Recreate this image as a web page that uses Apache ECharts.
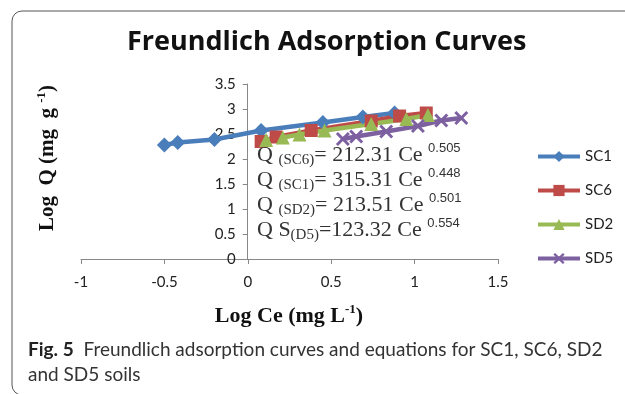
<!DOCTYPE html>
<html>
<head>
<meta charset="utf-8">
<script src="https://cdn.jsdelivr.net/npm/echarts@6/dist/echarts.min.js"></script>
<style>
html,body{margin:0;padding:0;background:#fff;}
#main{width:625px;height:394px;}
</style>
</head>
<body>
<div id="main"></div>
<script>
// data (log Ce, log Q)
var seriesNames = ['SC1', 'SC6', 'SD2', 'SD5'];
var sc1X = [-0.50, -0.42, -0.20, 0.08, 0.45, 0.69, 0.88];
var sc1Y = [2.28, 2.33, 2.39, 2.57, 2.73, 2.84, 2.92];
var sc6X = [0.08, 0.17, 0.38, 0.74, 0.91, 1.07];
var sc6Y = [2.35, 2.44, 2.57, 2.76, 2.86, 2.92];
var sd2X = [0.11, 0.21, 0.31, 0.46, 0.74, 0.95, 1.08];
var sd2Y = [2.38, 2.43, 2.49, 2.57, 2.70, 2.80, 2.88];
var sd5X = [0.57, 0.65, 0.83, 1.02, 1.16, 1.28];
var sd5Y = [2.40, 2.45, 2.55, 2.66, 2.77, 2.82];

// equations written on the plot
var eqLabels = ['Q ', 'Q ', 'Q ', 'Q S'];
var eqSubs = ['(SC6)', '(SC1)', '(SD2)', '(D5)'];
var eqMid = ['= 212.31 Ce ', '= 315.31 Ce ', '= 213.51 Ce ', '=123.32 Ce '];
var eqExp = ['0.505', '0.448', '0.501', '0.554'];

var colors = ['#4a7ebb', '#be4b48', '#98b954', '#7d60a0'];
var symbols = ['diamond', 'rect', 'triangle',
  'path://M1.5,0L5,3.5L8.5,0L10,1.5L6.5,5L10,8.5L8.5,10L5,6.5L1.5,10L0,8.5L3.5,5L0,1.5Z'];
var symSizes = [15, 13, 14, 14];
var xs = [sc1X, sc6X, sd2X, sd5X];
var ys = [sc1Y, sc6Y, sd2Y, sd5Y];

function pairs(x, y) {
  var out = [];
  for (var i = 0; i < x.length; i++) out.push([x[i], y[i]]);
  return out;
}

var series = [];
for (var i = 0; i < seriesNames.length; i++) {
  series.push({
    name: seriesNames[i],
    type: 'line',
    data: pairs(xs[i], ys[i]),
    symbol: symbols[i],
    symbolSize: symSizes[i],
    showAllSymbol: true,
    lineStyle: {width: 4.5, color: colors[i]},
    itemStyle: {color: colors[i]}
  });
}

var serif = '"Liberation Serif", "DejaVu Serif", serif';
var sans = 'Lato, "Open Sans", sans-serif';

var graphics = [{
  type: 'rect',
  shape: {x: 12, y: 11, width: 640, height: 384, r: 10},
  style: {fill: 'none', stroke: '#555', lineWidth: 1},
  silent: true
}];

// equations
var eqY = [155, 180, 205, 230];
for (var k = 0; k < eqLabels.length; k++) {
  graphics.push({
    type: 'text',
    x: 257, y: eqY[k],
    z: 10,
    style: {
      text: '{q|' + eqLabels[k] + '}{sub|' + eqSubs[k] + '}{q|' + eqMid[k] + '}{sup|' + eqExp[k] + '}',
      verticalAlign: 'middle',
      rich: {
        q: {fontFamily: serif, fontSize: 22, fill: '#333', lineHeight: 26, verticalAlign: 'middle'},
        sub: {fontFamily: serif, fontSize: 15, fill: '#333', lineHeight: 26, verticalAlign: 'bottom'},
        sup: {fontFamily: '"Liberation Sans", Arial, sans-serif', fontSize: 13, fill: '#333', lineHeight: 26, verticalAlign: 'top'}
      }
    }
  });
}

// axis titles
graphics.push({
  type: 'text',
  x: 289, y: 316,
  style: {
    text: '{b|Log Ce (mg L}{s|-1}{b|)}',
    align: 'center', verticalAlign: 'middle',
    rich: {
      b: {fontFamily: serif, fontWeight: 'bold', fontSize: 22, fill: '#111', lineHeight: 26, verticalAlign: 'middle'},
      s: {fontFamily: serif, fontWeight: 'bold', fontSize: 13, fill: '#111', lineHeight: 26, verticalAlign: 'top'}
    }
  }
});
graphics.push({
  type: 'text',
  x: 48, y: 158,
  rotation: Math.PI / 2,
  style: {
    text: '{b|Log  Q (mg  g }{s|-1}{b|)}',
    align: 'center', verticalAlign: 'middle',
    rich: {
      b: {fontFamily: serif, fontWeight: 'bold', fontSize: 21, fill: '#111', lineHeight: 26, verticalAlign: 'middle'},
      s: {fontFamily: serif, fontWeight: 'bold', fontSize: 13, fill: '#111', lineHeight: 26, verticalAlign: 'top'}
    }
  }
});

// figure caption
graphics.push({
  type: 'text',
  x: 28, y: 350,
  style: {
    text: '{f|Fig. 5}{t|  Freundlich adsorption curves and equations for SC1, SC6, SD2}',
    verticalAlign: 'middle',
    rich: {
      f: {fontFamily: sans, fontWeight: 'bold', fontSize: 19, fill: '#222'},
      t: {fontFamily: sans, fontSize: 19, fill: '#333'}
    }
  }
});
graphics.push({
  type: 'text',
  x: 28, y: 375,
  style: {text: 'and SD5 soils', verticalAlign: 'middle', fontFamily: sans, fontSize: 19, fill: '#333'}
});

var option = {
  animation: false,
  color: colors,
  title: {
    text: 'Freundlich Adsorption Curves',
    left: 122,
    top: 24,
    textStyle: {fontFamily: '"Open Sans", Lato, sans-serif', fontWeight: 'bold', fontSize: 27, color: '#111'}
  },
  legend: {
    orient: 'vertical',
    left: 531,
    top: 144,
    itemWidth: 42,
    itemHeight: 14,
    itemGap: 19,
    lineStyle: {width: 4},
    textStyle: {fontFamily: sans, fontSize: 15, color: '#222'},
    data: seriesNames
  },
  grid: {left: 81, right: 127, top: 84, bottom: 135},
  xAxis: {
    type: 'value',
    min: -1, max: 1.5, interval: 0.5,
    splitLine: {show: false},
    axisLine: {lineStyle: {color: '#888'}},
    axisTick: {show: true, length: 5, lineStyle: {color: '#888'}},
    axisLabel: {fontFamily: sans, fontSize: 15, color: '#222', margin: 16}
  },
  yAxis: {
    type: 'value',
    min: 0, max: 3.5, interval: 0.5,
    // Excel puts the value axis where x = 0
    offset: -166.7,
    splitLine: {show: false},
    axisLine: {show: true, onZero: false, lineStyle: {color: '#888'}},
    axisTick: {show: true, length: 5, lineStyle: {color: '#888'}},
    axisLabel: {fontFamily: sans, fontSize: 15, color: '#222', margin: 12}
  },
  graphic: graphics,
  series: series
};

var myChart = echarts.init(document.getElementById('main'));
myChart.setOption(option);
</script>
</body>
</html>
